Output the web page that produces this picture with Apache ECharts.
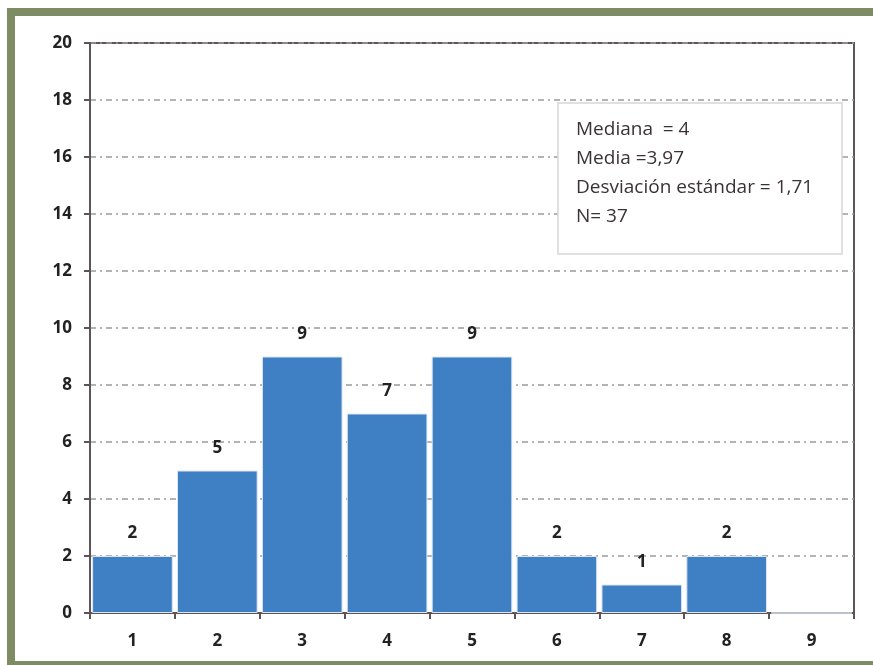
<!DOCTYPE html>
<html>
<head>
<meta charset="utf-8">
<script src="https://cdn.jsdelivr.net/npm/echarts@6/dist/echarts.min.js"></script>
<style>
  html, body { margin: 0; padding: 0; background: #fff; }
  #chart { width: 873px; height: 665px; }
</style>
</head>
<body>
<div id="chart"></div>
<script>
// datos del histograma
const categories = ['1', '2', '3', '4', '5', '6', '7', '8', '9'];
const counts = [2, 5, 9, 7, 9, 2, 1, 2, 0];
const statsLines = [
  'Mediana  = 4',
  'Media =3,97',
  'Desviación estándar = 1,71',
  'N= 37'
];

const chart = echarts.init(document.getElementById('chart'));

const axisColor = '#5c5456';
const font = '"Open Sans", "Liberation Sans", sans-serif';

const option = {
  backgroundColor: '#fff',
  animation: false,
  grid: { left: 90, top: 43, right: 19, bottom: 52, show: true, borderColor: axisColor, borderWidth: 2 },
  xAxis: {
    type: 'category',
    data: categories,
    boundaryGap: true,
    axisLine: { lineStyle: { color: axisColor, width: 2 } },
    axisTick: { show: true, length: 6, interval: 0, lineStyle: { color: axisColor, width: 2 } },
    axisLabel: { color: '#222', fontWeight: 'bold', fontSize: 17, fontFamily: font, margin: 20 }
  },
  yAxis: {
    type: 'value',
    min: 0,
    max: 20,
    interval: 2,
    axisLine: { show: true, lineStyle: { color: axisColor, width: 2 } },
    axisTick: { show: true, length: 6, lineStyle: { color: axisColor, width: 2 } },
    axisLabel: { color: '#222', fontWeight: 'bold', fontSize: 17, fontFamily: font, margin: 18 },
    splitLine: { lineStyle: { color: '#9a9a9a', width: 1.5, type: [6, 4, 2, 4] } }
  },
  series: [{
    type: 'bar',
    data: counts,
    barCategoryGap: '5%',
    itemStyle: { color: '#3f7fc3', borderColor: '#dbe6f3', borderWidth: 1 },
    label: {
      show: true,
      position: 'top',
      distance: 14,
      color: '#222',
      fontWeight: 'bold',
      fontSize: 17,
      fontFamily: font,
      formatter: p => p.value > 0 ? p.value : ''
    }
  }],
  graphic: [
    // marco verde
    { type: 'rect', shape: { x: 7, y: 8, width: 866, height: 8 }, style: { fill: '#7e8c64' }, z: 100 },
    { type: 'rect', shape: { x: 7, y: 8, width: 8, height: 657 }, style: { fill: '#7e8c64' }, z: 100 },
    { type: 'rect', shape: { x: 7, y: 661, width: 866, height: 4 }, style: { fill: '#7e8c64' }, z: 100 },
    // cuadro de estadísticas
    {
      type: 'rect',
      shape: { x: 558, y: 103, width: 284, height: 151 },
      style: { fill: '#fff', stroke: '#d6d6d6', lineWidth: 1.5 },
      z: 100
    },
    {
      type: 'text',
      x: 576,
      y: 115,
      z: 101,
      style: {
        text: statsLines.join('\n'),
        fill: '#3a3335',
        font: '19px ' + font,
        lineHeight: 29
      }
    }
  ]
};

chart.setOption(option);
</script>
</body>
</html>
